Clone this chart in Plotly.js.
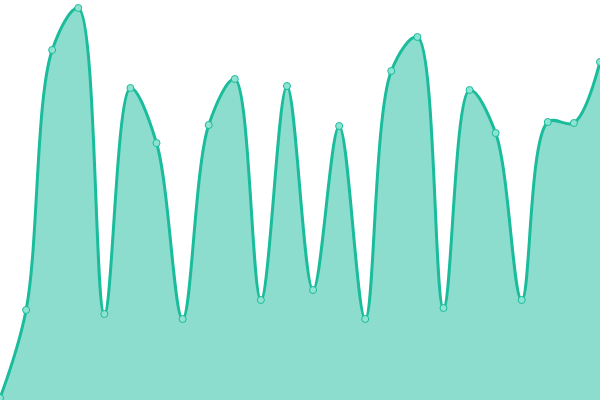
<!DOCTYPE html>
<html>
<head>
<meta charset="utf-8">
<script src="https://cdn.plot.ly/plotly-3.0.1.min.js"></script>
<style>html,body{margin:0;padding:0;background:#fff}#chart{width:600px;height:400px}</style>
</head>
<body>
<div id="chart"></div>
<script>
const xValues = [0,1,2,3,4,5,6,7,8,9,10,11,12,13,14,15,16,17,18,19,20,21,22,23];
const yValues = [2,90,350,392,86,312,257,81,275,321,100,314,110,274,81,329,363,92,310,267,100,278,277,338];

const trace = {
  x: xValues,
  y: yValues,
  type: 'scatter',
  mode: 'lines+markers',
  fill: 'tozeroy',
  fillcolor: 'rgba(26,188,156,0.5)',
  line: {shape: 'spline', smoothing: 1, color: '#1abc9c', width: 3},
  marker: {size: 7, color: '#8fe3d2', line: {color: '#1abc9c', width: 1}},
  hoverinfo: 'none'
};

const layout = {
  width: 600,
  height: 400,
  margin: {l: 0, r: 0, t: 0, b: 0, pad: 0},
  paper_bgcolor: '#ffffff',
  plot_bgcolor: '#ffffff',
  showlegend: false,
  xaxis: {range: [0, 23], visible: false, fixedrange: true},
  yaxis: {range: [0, 400], visible: false, fixedrange: true}
};

Plotly.newPlot('chart', [trace], layout, {displayModeBar: false, staticPlot: true});
</script>
</body>
</html>
